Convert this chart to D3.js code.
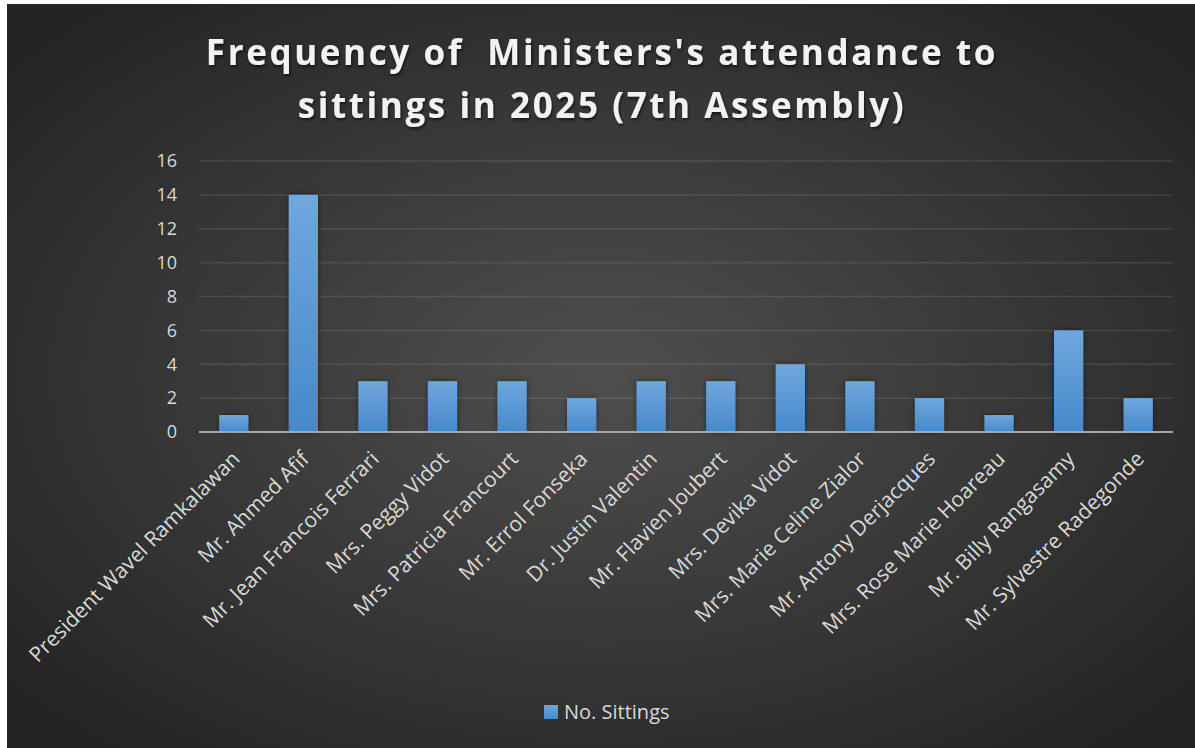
<!DOCTYPE html>
<html>
<head>
<meta charset="utf-8">
<script src="https://cdn.jsdelivr.net/npm/d3@7"></script>
<style>
  body { margin: 0; background: #fff; }
  svg { display: block; }
</style>
</head>
<body>
<div id="chart"></div>
<script>
// data
var ministers = [
    "President Wavel Ramkalawan",
    "Mr. Ahmed Afif",
    "Mr. Jean Francois Ferrari",
    "Mrs. Peggy Vidot",
    "Mrs. Patricia Francourt",
    "Mr. Errol Fonseka",
    "Dr. Justin Valentin",
    "Mr. Flavien Joubert",
    "Mrs. Devika Vidot",
    "Mrs. Marie Celine Zialor",
    "Mr. Antony Derjacques",
    "Mrs. Rose Marie Hoareau",
    "Mr. Billy Rangasamy",
    "Mr. Sylvestre Radegonde"
];
var sittings = [1, 14, 3, 3, 3, 2, 3, 3, 4, 3, 2, 1, 6, 2];
var yTicks = [0, 2, 4, 6, 8, 10, 12, 14, 16];
var titleLines = ["Frequency of  Ministers's attendance to", "sittings in 2025 (7th Assembly)"];
var seriesName = "No. Sittings";

var width = 1195;
var height = 748;
var textColor = "#d9d9d9";
var font = "'Open Sans', sans-serif";

var svg = d3.select("#chart")
    .append("svg")
    .attr("width", width)
    .attr("height", height);

var defs = svg.append("defs");

//dark background, lighter in the middle
var bg = defs.append("radialGradient")
    .attr("id", "bg")
    .attr("cx", "50%").attr("cy", "50%").attr("r", "65%");
bg.append("stop").attr("offset", "0%").attr("stop-color", "#4f4f4f");
bg.append("stop").attr("offset", "100%").attr("stop-color", "#242424");

var barGrad = defs.append("linearGradient")
    .attr("id", "barGrad")
    .attr("x1", 0).attr("y1", 0).attr("x2", 0).attr("y2", 1);
barGrad.append("stop").attr("offset", "0%").attr("stop-color", "#6fa7dd");
barGrad.append("stop").attr("offset", "100%").attr("stop-color", "#4689cb");

var shadow = defs.append("filter").attr("id", "shadow")
    .attr("x", "-30%").attr("y", "-10%").attr("width", "160%").attr("height", "120%");
shadow.append("feDropShadow")
    .attr("dx", 0).attr("dy", 0).attr("stdDeviation", 3)
    .attr("flood-color", "#000").attr("flood-opacity", 0.45);

var titleShadow = defs.append("filter").attr("id", "tshadow");
titleShadow.append("feDropShadow")
    .attr("dx", 1).attr("dy", 2).attr("stdDeviation", 1.5)
    .attr("flood-color", "#000").attr("flood-opacity", 0.6);

svg.append("rect")
    .attr("x", 7)
    .attr("y", 4)
    .attr("width", width - 7)
    .attr("height", height - 4)
    .attr("fill", "url(#bg)");

//plot area (don't call it "top", that's window.top)
var plotLeft = 199, plotRight = 1173, plotTop = 161, plotBottom = 432;

var x = d3.scaleBand()
    .domain(ministers)
    .range([plotLeft, plotRight])
    .paddingInner(0.58)
    .paddingOuter(0.29);

var y = d3.scaleLinear()
    .domain([0, 16])
    .range([plotBottom, plotTop]);

//gridlines
svg.append("g")
    .selectAll("line")
    .data(yTicks.filter(d => d > 0))
    .enter().append("line")
    .attr("x1", plotLeft)
    .attr("x2", plotRight)
    .attr("y1", d => y(d))
    .attr("y2", d => y(d))
    .attr("stroke", "#fff")
    .attr("stroke-opacity", 0.1)
    .attr("stroke-width", 1.5);

//y axis labels
var yAxis = svg.append("g")
    .attr("transform", "translate(" + (plotLeft - 22) + ",0)")
    .call(d3.axisLeft(y).tickValues(yTicks).tickSize(0).tickPadding(0));
yAxis.select(".domain").remove();
yAxis.selectAll("text")
    .attr("fill", textColor)
    .style("font-family", font)
    .style("font-size", "18px");

//bars
svg.append("g")
    .selectAll(".bar")
    .data(sittings)
    .enter().append("rect")
    .attr("class", "bar")
    .attr("x", (d, i) => x(ministers[i]))
    .attr("y", d => y(d))
    .attr("width", x.bandwidth())
    .attr("height", d => y(0) - y(d))
    .attr("fill", "url(#barGrad)")
    .attr("filter", "url(#shadow)");

//x axis line
svg.append("line")
    .attr("x1", plotLeft)
    .attr("x2", plotRight)
    .attr("y1", plotBottom)
    .attr("y2", plotBottom)
    .attr("stroke", "#a6a6a6")
    .attr("stroke-width", 2);

//rotated category labels
svg.append("g")
    .selectAll(".cat")
    .data(ministers)
    .enter().append("text")
    .attr("class", "cat")
    .attr("transform", d => "translate(" + (x(d) + x.bandwidth() / 2 + 2) + "," + (plotBottom + 23) + ") rotate(-45)")
    .attr("text-anchor", "end")
    .attr("dy", "0.35em")
    .attr("fill", textColor)
    .style("font-family", font)
    .style("font-size", "21px")
    .text(d => d);

//title
svg.append("g")
    .selectAll(".title")
    .data(titleLines)
    .enter().append("text")
    .attr("class", "title")
    .attr("x", 602)
    .attr("y", (d, i) => 65 + i * 53)
    .attr("text-anchor", "middle")
    .attr("fill", "#f2f2f2")
    .attr("filter", "url(#tshadow)")
    .style("font-family", font)
    .style("font-weight", "bold")
    .style("font-size", "35px")
    .style("letter-spacing", "2.6px")
    .style("white-space", "pre")
    .text(d => d);

//legend
var legend = svg.append("g").attr("transform", "translate(544,705)");
legend.append("rect")
    .attr("width", 14)
    .attr("height", 14)
    .attr("fill", "url(#barGrad)");
legend.append("text")
    .attr("x", 20)
    .attr("y", 14)
    .attr("fill", textColor)
    .style("font-family", font)
    .style("font-size", "20px")
    .text(seriesName);
</script>
</body>
</html>
